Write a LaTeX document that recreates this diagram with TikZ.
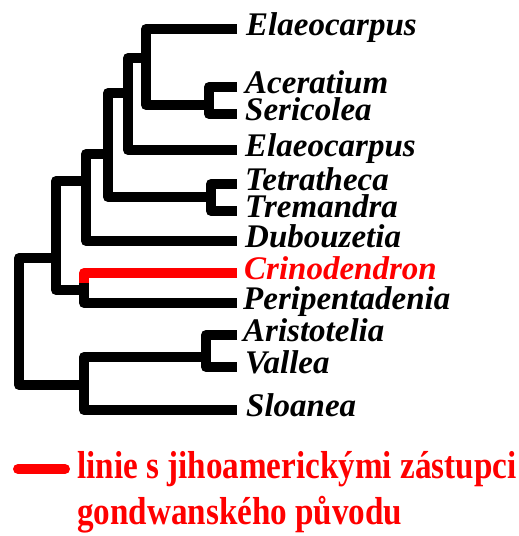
\documentclass[tikz,border=0pt]{standalone}
\usepackage{fontspec}
\setmainfont{Liberation Serif}
\begin{document}
\begin{tikzpicture}[x=1pt,y=-1pt,
  br/.style={line width=10pt, line join=round, line cap=butt},
  leaf/.style={anchor=base west, inner sep=0pt, font=\fontsize{33}{33}\selectfont\bfseries\itshape},
  legtext/.style={anchor=base west, inner sep=0pt, text=red, font=\fontsize{39}{39}\selectfont\bfseries}]
\useasboundingbox (0,0) rectangle (519,536);
% leaf tips
\coordinate (t1) at (237,29);
\coordinate (t2) at (237,87);
\coordinate (t3) at (237,114);
\coordinate (t4) at (237,150);
\coordinate (t5) at (237,184);
\coordinate (t6) at (237,211);
\coordinate (t7) at (237,241);
\coordinate (t8) at (237,273);
\coordinate (t9) at (237,303);
\coordinate (t10) at (237,335);
\coordinate (t11) at (237,367);
\coordinate (t12) at (237,410);
% internal nodes
\coordinate (nAS) at (209,105);
\coordinate (nA) at (146,58);
\coordinate (nB) at (128,93);
\coordinate (nTT) at (211,197);
\coordinate (nC) at (108,154);
\coordinate (nD) at (86,181);
\coordinate (nF) at (84,290);
\coordinate (fs) at (84,283);
\coordinate (nE) at (56,258);
\coordinate (nH) at (206,357);
\coordinate (nG) at (84,385);
\coordinate (nR) at (19,320);
% labels
\node[leaf] (L1) at (246,35.5) {Elaeocarpus};
\node[leaf] (L2) at (245,93.5) {Aceratium};
\node[leaf] (L3) at (245,120.5) {Sericolea};
\node[leaf] (L4) at (245,156.5) {Elaeocarpus};
\node[leaf] (L5) at (245,190.5) {Tetratheca};
\node[leaf] (L6) at (245,217.5) {Tremandra};
\node[leaf] (L7) at (245,247.5) {Dubouzetia};
\node[leaf, text=red] (L8) at (244,279.5) {Crinodendron};
\node[leaf] (L9) at (243,309.5) {Peripentadenia};
\node[leaf] (L10) at (243,341.5) {Aristotelia};
\node[leaf] (L11) at (245,373.5) {Vallea};
\node[leaf] (L12) at (246,416) {Sloanea};
% branches
\draw[br] (t2) -| (nAS) |- (t3);
\draw[br] (t1) -| (nA) |- (nAS);
\draw[br] (nA) -| (nB) |- (t4);
\draw[br] (t5) -| (nTT) |- (t6);
\draw[br] (nB) -| (nC) |- (nTT);
\draw[br] (nC) -| (nD) |- (t7);
\draw[br] (nD) -| (nE) |- (nF);
\draw[br] (fs) |- (t9);
\draw[br, red] (t8) -| (fs);
\draw[br] (t10) -| (nH) |- (t11);
\draw[br] (nH) -| (nG) |- (t12);
\draw[br] (nE) -| (nR) |- (nG);
% legend
\coordinate (la) at (18,469);
\coordinate (lb) at (65,469);
\draw[red, line width=10pt, line cap=round] (la) -- (lb);
\node[legtext] (leg1) at (77,478) {\scalebox{0.85}[1]{linie s jihoamerickými zástupci}};
\node[legtext] (leg2) at (77,524) {\scalebox{0.85}[1]{gondwanského původu}};
\end{tikzpicture}
\end{document}
